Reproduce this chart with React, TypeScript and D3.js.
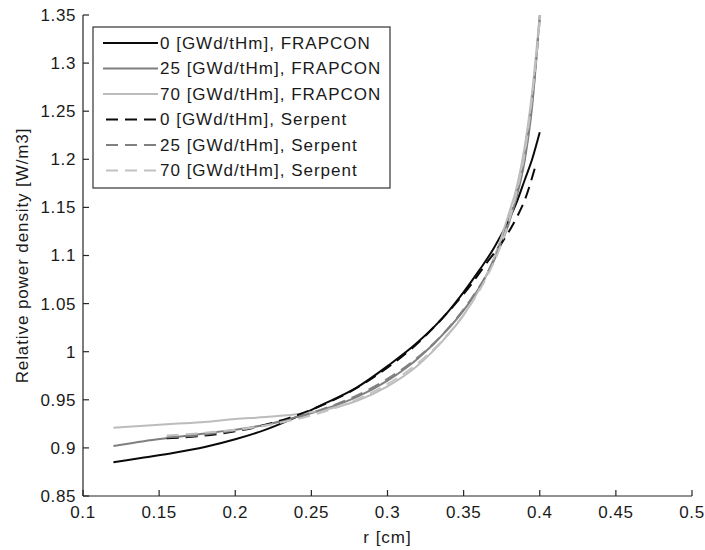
import React from "react";
import * as d3 from "d3";

// ---- data ----
const rFrapcon = [0.12, 0.14, 0.16, 0.18, 0.2, 0.22, 0.24, 0.26, 0.28, 0.3, 0.32, 0.34, 0.35, 0.36, 0.37, 0.38, 0.385, 0.39, 0.395, 0.4];
const frapcon0 = [0.885, 0.89, 0.895, 0.901, 0.909, 0.919, 0.932, 0.947, 0.963, 0.985, 1.01, 1.042, 1.062, 1.084, 1.108, 1.138, 1.156, 1.178, 1.2, 1.228];
const frapcon25 = [0.902, 0.907, 0.911, 0.915, 0.919, 0.924, 0.932, 0.941, 0.953, 0.97, 0.993, 1.024, 1.043, 1.066, 1.095, 1.135, 1.162, 1.198, 1.255, 1.35];
const frapcon70 = [0.921, 0.923, 0.925, 0.927, 0.93, 0.932, 0.935, 0.94, 0.949, 0.964, 0.986, 1.018, 1.038, 1.064, 1.098, 1.145, 1.172, 1.212, 1.27, 1.35];

const rSerpent = [0.155, 0.175, 0.195, 0.215, 0.235, 0.255, 0.275, 0.295, 0.315, 0.335, 0.355, 0.365, 0.375, 0.385, 0.39, 0.397];
const serpent0 = [0.91, 0.912, 0.916, 0.922, 0.931, 0.943, 0.958, 0.978, 1.002, 1.033, 1.07, 1.092, 1.113, 1.14, 1.157, 1.192];
const rSerpentB = [0.155, 0.175, 0.195, 0.215, 0.235, 0.255, 0.275, 0.295, 0.315, 0.335, 0.355, 0.365, 0.375, 0.385, 0.39, 0.395, 0.4];
const serpent25 = [0.911, 0.913, 0.917, 0.922, 0.929, 0.939, 0.951, 0.967, 0.988, 1.016, 1.055, 1.08, 1.115, 1.165, 1.2, 1.26, 1.345];
const serpent70 = [0.913, 0.915, 0.918, 0.922, 0.928, 0.936, 0.947, 0.962, 0.982, 1.01, 1.05, 1.077, 1.113, 1.167, 1.205, 1.265, 1.345];

const xTicks = [0.1, 0.15, 0.2, 0.25, 0.3, 0.35, 0.4, 0.45, 0.5];
const yTicks = [0.85, 0.9, 0.95, 1, 1.05, 1.1, 1.15, 1.2, 1.25, 1.3, 1.35];

const seriesNames = [
  "0 [GWd/tHm], FRAPCON",
  "25 [GWd/tHm], FRAPCON",
  "70 [GWd/tHm], FRAPCON",
  "0 [GWd/tHm], Serpent",
  "25 [GWd/tHm], Serpent",
  "70 [GWd/tHm], Serpent",
];

const series = [
  { name: seriesNames[0], r: rFrapcon, v: frapcon0, color: "#0a0a0a", dash: "" },
  { name: seriesNames[1], r: rFrapcon, v: frapcon25, color: "#7f7f7f", dash: "" },
  { name: seriesNames[2], r: rFrapcon, v: frapcon70, color: "#bcbcbc", dash: "" },
  { name: seriesNames[3], r: rSerpent, v: serpent0, color: "#0a0a0a", dash: "12,7" },
  { name: seriesNames[4], r: rSerpentB, v: serpent25, color: "#808080", dash: "12,7" },
  { name: seriesNames[5], r: rSerpentB, v: serpent70, color: "#c2c2c2", dash: "12,7" },
];

const W = 705;
const H = 550;
const left = 83, right = 692, top = 15, bottom = 496;
const font = "'Liberation Sans', Arial, Helvetica, sans-serif";
const textColor = "#1a1a1a";

export default function App() {
  const x = d3.scaleLinear().domain([0.1, 0.5]).range([left, right]);
  const y = d3.scaleLinear().domain([0.85, 1.35]).range([bottom, top]);
  const line = d3
    .line<[number, number]>()
    .x((d) => x(d[0]))
    .y((d) => y(d[1]))
    .curve(d3.curveMonotoneX);

  const legX = 93, legY = 27, legW = 297, legH = 161;
  const rowY0 = 43, rowStep = 25.5;

  return (
    <svg
      width={W}
      height={H}
      style={{ position: "absolute", left: 0, top: 0, background: "#fff" }}
      fontFamily={font}
    >
      <rect x={0} y={0} width={W} height={H} fill="#fff" />
      {/* curves */}
      {series.map((s, i) => (
        <path
          key={i}
          d={line(s.r.map((r, j) => [r, s.v[j]] as [number, number])) || ""}
          fill="none"
          stroke={s.color}
          strokeWidth={2}
          strokeDasharray={s.dash || undefined}
        />
      ))}
      {/* axes */}
      <line x1={left} x2={left} y1={top} y2={bottom} stroke="#262626" strokeWidth={1.2} />
      <line x1={left} x2={right} y1={bottom} y2={bottom} stroke="#262626" strokeWidth={1.2} />
      {yTicks.map((t) => (
        <g key={"y" + t}>
          <line x1={left} x2={left + 6} y1={y(t)} y2={y(t)} stroke="#262626" strokeWidth={1.2} />
          <text
            x={left - 7}
            y={y(t)}
            dy="0.35em"
            textAnchor="end"
            fontSize={17}
            letterSpacing={0.6}
            fill={textColor}
          >
            {String(t)}
          </text>
        </g>
      ))}
      {xTicks.map((t) => (
        <g key={"x" + t}>
          <line x1={x(t)} x2={x(t)} y1={bottom} y2={bottom - 6} stroke="#262626" strokeWidth={1.2} />
          <text
            x={x(t)}
            y={bottom + 22}
            textAnchor="middle"
            fontSize={17}
            letterSpacing={0.6}
            fill={textColor}
          >
            {String(t)}
          </text>
        </g>
      ))}
      <text
        x={(left + right) / 2}
        y={543}
        textAnchor="middle"
        fontSize={17}
        letterSpacing={1}
        fill={textColor}
      >
        r [cm]
      </text>
      <text
        transform={`translate(28, ${(top + bottom) / 2}) rotate(-90)`}
        textAnchor="middle"
        fontSize={17}
        letterSpacing={0.9}
        fill={textColor}
      >
        Relative power density [W/m3]
      </text>
      {/* legend */}
      <rect x={legX} y={legY} width={legW} height={legH} fill="#fff" stroke="#333" strokeWidth={1.2} />
      {series.map((s, i) => {
        const ry = rowY0 + i * rowStep;
        return (
          <g key={"leg" + i}>
            <line
              x1={s.dash ? 106 : 103}
              x2={158}
              y1={ry}
              y2={ry}
              stroke={s.color}
              strokeWidth={2}
              strokeDasharray={s.dash || undefined}
            />
            <text x={160} y={ry} dy="0.35em" fontSize={17} letterSpacing={1} fill={textColor}>
              {s.name}
            </text>
          </g>
        );
      })}
    </svg>
  );
}
